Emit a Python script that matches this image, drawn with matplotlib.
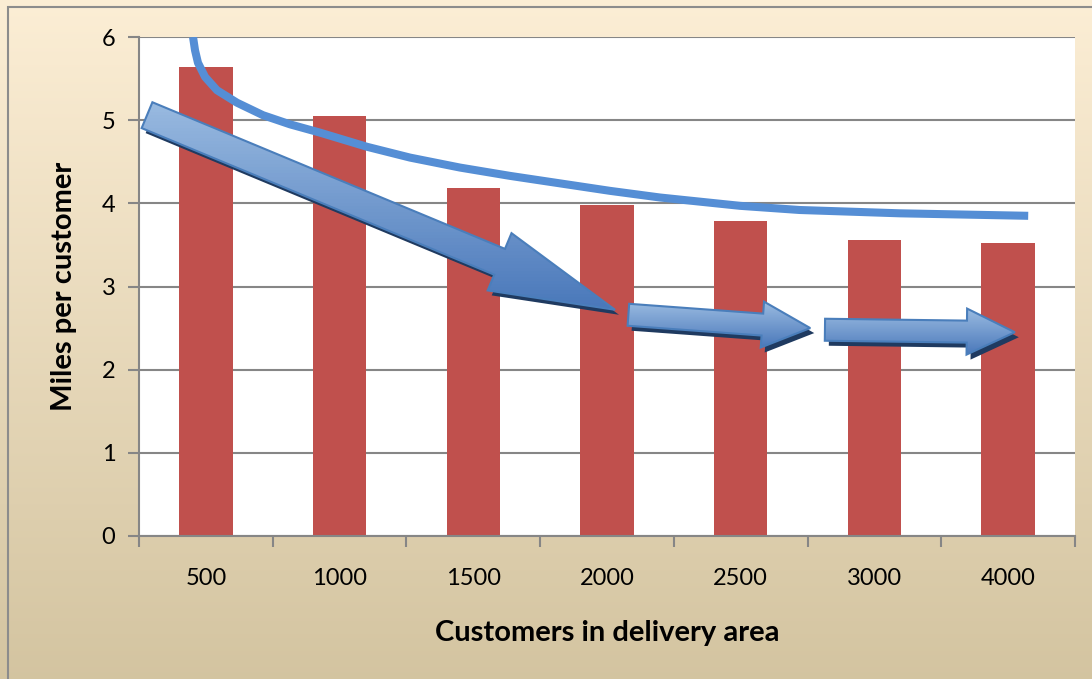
import numpy as np
import matplotlib
matplotlib.use("Agg")
import matplotlib.pyplot as plt
from matplotlib.patches import Polygon, Rectangle

plt.rcParams['font.family'] = ['Lato', 'DejaVu Sans']

# data
categories = ['500', '1000', '1500', '2000', '2500', '3000', '4000']
miles = [5.64, 5.05, 4.18, 3.98, 3.79, 3.56, 3.52]

# trend curve drawn over the bars (x in category positions)
curve_x = [-0.096, -0.081, -0.059, -0.006, 0.083, 0.233, 0.427, 0.629, 0.854, 1.205,
           1.527, 1.901, 2.275, 2.649, 3.023, 3.397, 3.995, 4.44, 5.19, 6.15]
curve_y = [6.0, 5.84, 5.69, 5.52, 5.36, 5.21, 5.06, 4.95, 4.85, 4.68,
           4.55, 4.43, 4.33, 4.24, 4.15, 4.07, 3.97, 3.92, 3.88, 3.85]

# decorative arrows: (tail_x, tail_y, tip_x, tip_y, shaft_px, head_w_px, head_len_px)
arrows = [
    (-0.44, 5.06, 3.06, 2.72, 28, 62, 125),
    (3.16, 2.66, 4.52, 2.50, 22, 46, 48),
    (4.63, 2.48, 6.05, 2.45, 22, 46, 48),
]

W, H = 1092, 679
fig = plt.figure(figsize=(W / 100, H / 100), dpi=100)

# background gradient
bg = fig.add_axes([0, 0, 1, 1], zorder=-10)
grad = np.linspace(0, 1, 256)[:, None]
top = np.array([0.988, 0.933, 0.835])
bot = np.array([0.830, 0.770, 0.630])
img = top[None, None, :] * (1 - grad[..., None]) + bot[None, None, :] * grad[..., None]
bg.imshow(img, aspect='auto', extent=[0, 1, 0, 1])
bg.add_patch(Rectangle((8 / W, -0.01), 1.2, 1 - 7 / H + 0.01, fill=False,
                       edgecolor='#8c8c8c', lw=1.5, transform=bg.transAxes))
bg.set_xlim(0, 1)
bg.set_ylim(0, 1)
bg.axis('off')

ax = fig.add_axes([139 / W, 1 - 536 / H, (1075 - 139) / W, (536 - 37) / H])
ax.set_facecolor('white')
x = np.arange(len(categories))
ax.bar(x, miles, width=0.4, color='#C0504D', zorder=2)
ax.plot(curve_x, curve_y, color='#558ED5', lw=5.8, zorder=3,
        solid_capstyle='butt', solid_joinstyle='round')

ax.set_xlim(-0.5, len(categories) - 0.5)
ax.set_ylim(0, 6)
ax.set_yticks(range(7))
ax.yaxis.grid(True, color='#868686', lw=1.5, zorder=0)
ax.set_axisbelow(True)
for s in ['top', 'right']:
    ax.spines[s].set_visible(False)
for s in ['left', 'bottom']:
    ax.spines[s].set_color('#868686')
    ax.spines[s].set_linewidth(1.5)

ax.set_xticks(x)
ax.set_xticklabels(categories)
ax.set_xticks(np.arange(-0.5, len(categories)), minor=True)
ax.tick_params(axis='x', which='major', length=0, pad=23, labelsize=17)
ax.tick_params(axis='x', which='minor', length=8, width=1.5, color='#868686')
ax.tick_params(axis='y', length=8, width=1.5, color='#868686', pad=9, labelsize=17)

fig.text(607 / W, 1 - 633 / H, 'Customers in delivery area', ha='center', va='center',
         fontsize=21, fontweight='bold')
fig.text(64 / W, 1 - 286 / H, 'Miles per customer', ha='center', va='center',
         rotation=90, fontsize=21, fontweight='bold')


def arrow_poly(p0, p1, shaft, hw, hl):
    d = p1 - p0
    L = np.hypot(*d)
    u = d / L
    n = np.array([-u[1], u[0]])
    b = p1 - u * hl
    pts = [p0 + n * shaft / 2, b + n * shaft / 2, b + n * hw / 2, p1,
           b - n * hw / 2, b - n * shaft / 2, p0 - n * shaft / 2]
    return np.array(pts)


# overlay axes in pixel units for the arrows
ov = fig.add_axes([0, 0, 1, 1], zorder=5)
ov.set_xlim(0, W)
ov.set_ylim(0, H)
ov.axis('off')
ov.patch.set_alpha(0)

fig.canvas.draw()
to_px = ax.transData + ov.transData.inverted()
c_top = np.array([0.60, 0.73, 0.88])
c_bot = np.array([0.29, 0.47, 0.73])
for tx, ty, hx, hy, sw, hw, hl in arrows:
    p0, p1 = to_px.transform([(tx, ty), (hx, hy)])
    pts = arrow_poly(p0, p1, sw, hw, hl)
    ov.add_patch(Polygon(pts + np.array([4, -5]), closed=True, facecolor='#1F3A60',
                         edgecolor='none', zorder=1))
    clip = Polygon(pts, closed=True, facecolor='none', edgecolor='#4A7EBB', lw=1.5, zorder=3)
    ov.add_patch(clip)
    x0, y0 = pts.min(axis=0)
    x1, y1 = pts.max(axis=0)
    g = np.linspace(0, 1, 64)[:, None]
    gi = c_top[None, None, :] * (1 - g[..., None]) + c_bot[None, None, :] * g[..., None]
    gi = np.repeat(gi, 2, axis=1)
    im = ov.imshow(gi, extent=[x0, x1, y0, y1], aspect='auto', zorder=2, origin='upper')
    im.set_clip_path(clip)

ov.set_xlim(0, W)
ov.set_ylim(0, H)
fig.savefig('out.png', dpi=100)
